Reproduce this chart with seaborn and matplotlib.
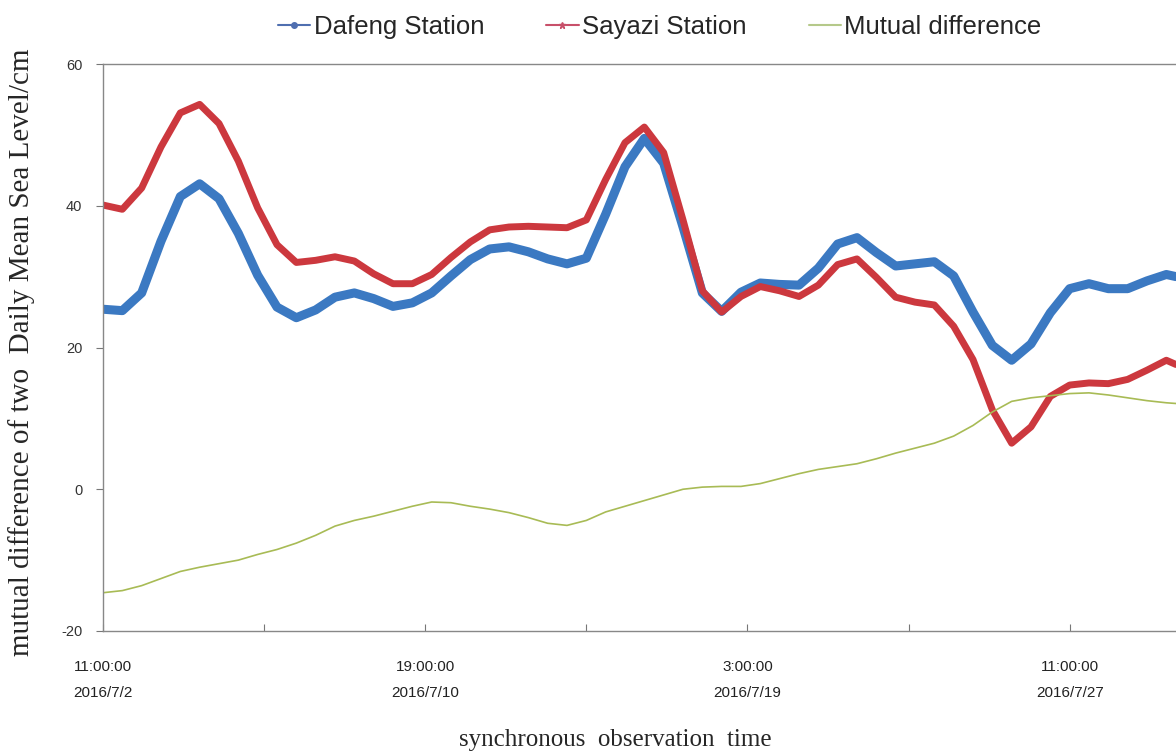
import pandas as pd
import matplotlib.pyplot as plt
import seaborn as sns
from matplotlib.lines import Line2D

hours = list(range(0, 661, 12)) + [666]

dafeng = [25.4, 25.2, 27.7, 35.0, 41.3, 43.1, 41.0, 36.1, 30.2, 25.7,
          24.2, 25.3, 27.1, 27.7, 26.9, 25.8, 26.3, 27.7, 30.1, 32.4,
          33.9, 34.2, 33.5, 32.5, 31.8, 32.6, 38.8, 45.5, 49.5, 46.0,
          37.0, 27.7, 25.1, 27.8, 29.1, 28.9, 28.8, 31.2, 34.6, 35.5,
          33.4, 31.5, 31.8, 32.1, 30.1, 25.0, 20.3, 18.2, 20.5, 24.9,
          28.3, 29.0, 28.3, 28.3, 29.4, 30.3, 30.0]

sayazi = [40.1, 39.5, 42.5, 48.3, 53.1, 54.3, 51.6, 46.3, 39.7, 34.5,
          32.0, 32.3, 32.8, 32.2, 30.4, 29.0, 29.0, 30.3, 32.7, 34.9,
          36.6, 37.0, 37.1, 37.0, 36.9, 38.0, 43.7, 48.9, 51.1, 47.5,
          38.0, 28.0, 25.0, 27.2, 28.6, 28.0, 27.2, 28.8, 31.7, 32.5,
          29.9, 27.1, 26.4, 26.0, 23.0, 18.3, 11.2, 6.5, 8.8, 13.1,
          14.7, 15.0, 14.9, 15.5, 16.8, 18.2, 17.6]

mutual = [-14.6, -14.3, -13.6, -12.6, -11.6, -11.0, -10.5, -10.0, -9.2, -8.5,
          -7.6, -6.5, -5.2, -4.4, -3.8, -3.1, -2.4, -1.8, -1.9, -2.4,
          -2.8, -3.3, -4.0, -4.8, -5.1, -4.4, -3.2, -2.4, -1.6, -0.8,
          0.0, 0.3, 0.4, 0.4, 0.8, 1.5, 2.2, 2.8, 3.2, 3.6,
          4.3, 5.1, 5.8, 6.5, 7.5, 9.0, 10.9, 12.4, 12.9, 13.2,
          13.5, 13.6, 13.3, 12.9, 12.5, 12.2, 12.1]

tick_hours = [0, 100, 200, 300, 400, 500, 600]
tick_labels = ['11:00:00\n2016/7/2', '', '19:00:00\n2016/7/10', '',
               '3:00:00\n2016/7/19', '', '11:00:00\n2016/7/27']
y_ticks = [-20, 0, 20, 40, 60]

df = pd.DataFrame({'hour': hours, 'Dafeng': dafeng, 'Sayazi': sayazi, 'Mutual': mutual})

sns.set_style('white')
plt.rcParams['font.family'] = ['Liberation Sans', 'DejaVu Sans']
plt.rcParams['axes.unicode_minus'] = False

fig = plt.figure(figsize=(11.76, 7.53), dpi=100)
ax = fig.add_axes([103/1176, 122/753, 1 - 103/1176, 567/753])

sns.lineplot(data=df, x='hour', y='Dafeng', ax=ax, color='#3b79c2', lw=6.5,
             solid_capstyle='round', solid_joinstyle='round')
sns.lineplot(data=df, x='hour', y='Sayazi', ax=ax, color='#cc383e', lw=5,
             solid_capstyle='round', solid_joinstyle='round')
sns.lineplot(data=df, x='hour', y='Mutual', ax=ax, color='#a8bb55', lw=1.2)

ax.set_xlim(0, 666)
ax.set_ylim(-20, 60)
ax.set_yticks(y_ticks)
ax.set_xticks(tick_hours)
ax.set_xticklabels(tick_labels, fontsize=11, linespacing=2.1)
ax.tick_params(axis='y', direction='out', length=5, pad=10, labelsize=10.5,
               labelcolor='#333333', color='#777777', left=True)
ax.tick_params(axis='x', direction='in', length=5, pad=21, color='#777777',
               labelcolor='#222222', bottom=True)
ax.set_xlabel('')
ax.set_ylabel('')
for side in ['left', 'top', 'bottom']:
    ax.spines[side].set_color('#888888')
    ax.spines[side].set_linewidth(1)
ax.spines['right'].set_visible(False)

fig.text(615/1176, 1 - 740/753, 'synchronous  observation  time', ha='center', va='center',
         fontsize=18, family='Liberation Serif')
fig.text(22/1176, 1 - 352/753, 'mutual difference of two  Daily Mean Sea Level/cm',
         ha='center', va='center', rotation=90, fontsize=21, family='Liberation Serif')

handles = [
    Line2D([], [], color='#4f6fb0', lw=1.5, marker='o', markersize=4),
    Line2D([], [], color='#c8506a', lw=1.5, marker='*', markersize=5),
    Line2D([], [], color='#b5c98a', lw=1.5),
]
fig.legend(handles, ['Dafeng Station', 'Sayazi Station', 'Mutual difference'],
           loc='center', bbox_to_anchor=(660/1176, 1 - 27/753), ncol=3, frameon=False,
           fontsize=18.5, handlelength=1.25, handletextpad=0.15, columnspacing=2.4)

fig.savefig('out.png', dpi=100)
